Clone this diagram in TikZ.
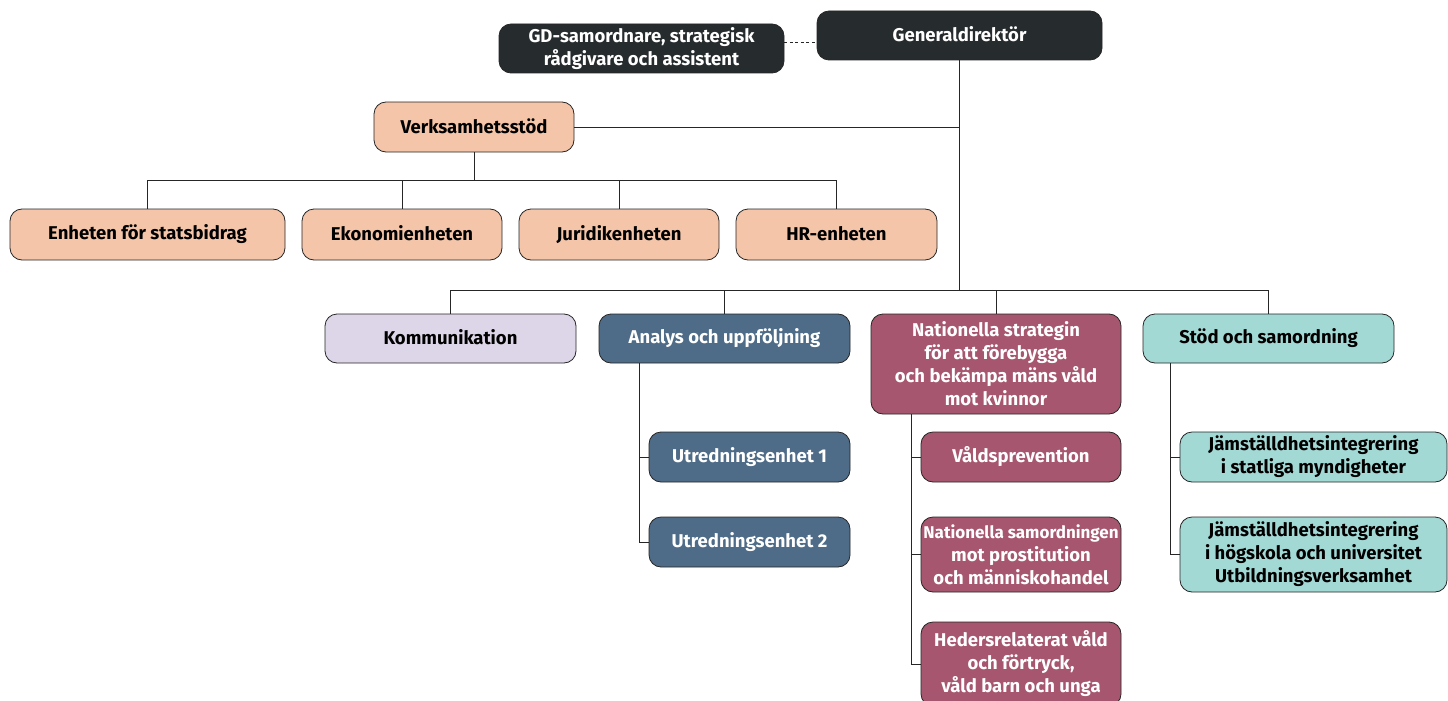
\documentclass[tikz,border=0pt]{standalone}
\usepackage{fontspec}
\setmainfont{Fira Sans}
\definecolor{cdark}{HTML}{262B2E}
\definecolor{cpeach}{HTML}{F4C5A8}
\definecolor{clav}{HTML}{DDD5E8}
\definecolor{cslate}{HTML}{4E6B87}
\definecolor{cmauve}{HTML}{A6566E}
\definecolor{cteal}{HTML}{A2D9D5}
\newcommand{\up}[1]{\raisebox{2.5pt}{#1}}
\begin{document}
\begin{tikzpicture}[x=1pt,y=-1pt,
  box/.style={draw=black!85, line width=0.8pt, rounded corners=12pt, align=center,
    font=\fontsize{18.5}{23}\selectfont\bfseries, inner sep=0pt},
  dark/.style={box, fill=cdark, text=white},
  peach/.style={box, fill=cpeach, text=black},
  lav/.style={box, fill=clav, text=black},
  slate/.style={box, fill=cslate, text=white},
  mauve/.style={box, fill=cmauve, text=white},
  teal/.style={box, fill=cteal, text=black},
  conn/.style={draw=black!85, line width=0.9pt}]
\useasboundingbox (0,0) rectangle (1448,701);
\fill[white] (0,0) rectangle (1448,701);

\coordinate (y42) at (0,42);
\coordinate (y180) at (0,180);
\coordinate (y290) at (0,290);
\coordinate (aL) at (639,0);
\coordinate (nL) at (911,0);
\coordinate (sL) at (1170,0);

\node[dark, minimum width=285pt, minimum height=49pt] (gd) at (959.5,35.5) {\up{Generaldirektör}};
\node[dark, minimum width=285pt, minimum height=49pt] (gds) at (641.5,48.5) {GD-samordnare, strategisk\\rådgivare och assistent};
\node[peach, minimum width=200pt, minimum height=50pt] (vs) at (474,127) {\up{Verksamhetsstöd}};
\node[peach, minimum width=275pt, minimum height=51pt] (e1) at (147.5,234.5) {\up{Enheten för statsbidrag}};
\node[peach, minimum width=200pt, minimum height=51pt] (e2) at (402,234.5) {\up{Ekonomienheten}};
\node[peach, minimum width=200pt, minimum height=51pt] (e3) at (619,234.5) {\up{Juridikenheten}};
\node[peach, minimum width=201pt, minimum height=51pt] (e4) at (836.5,234.5) {\up{HR-enheten}};

\node[lav, minimum width=251pt, minimum height=49pt] (k) at (450.5,338.5) {\up{Kommunikation}};
\node[slate, minimum width=251pt, minimum height=49pt] (a) at (724.5,338.5) {\up{Analys och uppföljning}};
\node[mauve, minimum width=250pt, minimum height=100pt] (n) at (996,364) {Nationella strategin\\för att förebygga\\och bekämpa mäns våld\\mot kvinnor};
\node[teal, minimum width=251pt, minimum height=49pt] (s) at (1268.5,338.5) {\up{Stöd och samordning}};

\node[slate, minimum width=201pt, minimum height=50pt] (u1) at (749.5,457) {\up{Utredningsenhet 1}};
\node[slate, minimum width=201pt, minimum height=50pt] (u2) at (749.5,542) {\up{Utredningsenhet 2}};

\node[mauve, minimum width=200pt, minimum height=50pt] (v1) at (1021,457) {\up{Våldsprevention}};
\node[mauve, minimum width=200pt, minimum height=75pt] (v2) at (1021,554.5) {{\fontsize{17}{23}\selectfont Nationella samordningen}\\mot prostitution\\och människohandel};
\node[mauve, minimum width=200pt, minimum height=84pt] (v3) at (1021,664) {Hedersrelaterat våld\\och förtryck,\\våld barn och unga};

\node[teal, minimum width=267pt, minimum height=50pt] (j1) at (1313.5,457) {Jämställdhetsintegrering\\i statliga myndigheter};
\node[teal, minimum width=267pt, minimum height=75pt] (j2) at (1313.5,554.5) {Jämställdhetsintegrering\\i högskola och universitet\\Utbildningsverksamhet};

% connectors
\draw[conn, dash pattern=on 3pt off 2.5pt] (gds.east |- y42) -- (gd.west |- y42);
\draw[conn] (gd.south) -- (gd.south |- y290);
\draw[conn] (vs.east) -- (vs.east -| gd.south);
\draw[conn] (vs.south) -- (vs.south |- y180);
\draw[conn] (e1.north) |- (e4.north |- y180) -- (e4.north);
\draw[conn] (e2.north) -- (e2.north |- y180);
\draw[conn] (e3.north) -- (e3.north |- y180);
\draw[conn] (k.north) |- (s.north |- y290) -- (s.north);
\draw[conn] (a.north) -- (a.north |- y290);
\draw[conn] (n.north) -- (n.north |- y290);

\draw[conn] (a.south -| aL) |- (u2.west);
\draw[conn] (u1.west) -- (u1.west -| aL);
\draw[conn] (n.south -| nL) |- (v3.west);
\draw[conn] (v1.west) -- (v1.west -| nL);
\draw[conn] (v2.west) -- (v2.west -| nL);
\draw[conn] (s.south -| sL) |- (j2.west);
\draw[conn] (j1.west) -- (j1.west -| sL);
\end{tikzpicture}
\end{document}
